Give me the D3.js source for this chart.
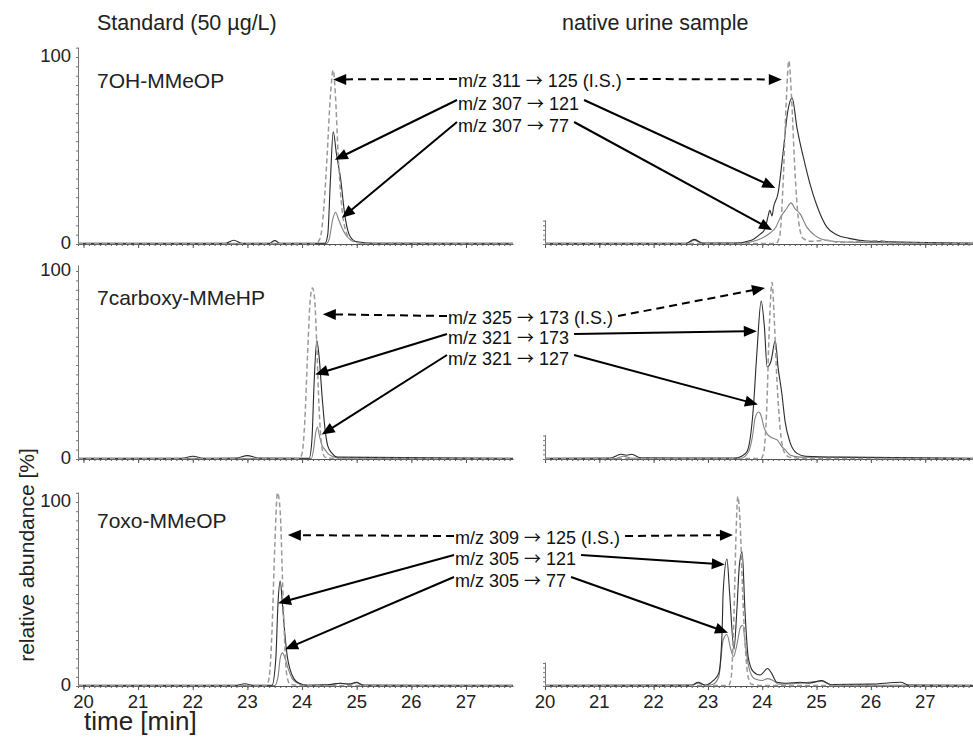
<!DOCTYPE html>
<html>
<head>
<meta charset="utf-8">
<script src="https://cdn.jsdelivr.net/npm/d3@7"></script>
<style>
  body { margin: 0; background: #fff; }
  svg { display: block; font-family: "Liberation Sans", Arial, sans-serif; }
</style>
</head>
<body>
<div id="chart"></div>
<script>
// ---- data: [time (min), relative abundance (%)] ----
const compounds = ["7OH-MMeOP", "7carboxy-MMeHP", "7oxo-MMeOP"];
const columnTitles = ["Standard (50 µg/L)", "native urine sample"];
const transitions = [
  ["m/z 311 → 125 (I.S.)", "m/z 307 → 121", "m/z 307 → 77"],
  ["m/z 325 → 173 (I.S.)", "m/z 321 → 173", "m/z 321 → 127"],
  ["m/z 309 → 125 (I.S.)", "m/z 305 → 121", "m/z 305 → 77"]
];
const xTickValues = [20, 21, 22, 23, 24, 25, 26, 27];
const yTickValues = [0, 100];

// 7OH-MMeOP, standard
const ohStdIS = [[19.9,0.3],[24.25,0.3],[24.33,3],[24.4,20],[24.46,48],[24.52,80],[24.57,93],[24.61,80],[24.66,48],[24.72,22],[24.8,7],[24.9,2],[25.1,0.4],[27.86,0.3]];
const ohStd121 = [[19.9,0.4],[22.6,0.4],[22.75,2],[22.9,0.4],[23.4,0.4],[23.5,1.8],[23.6,0.4],[24.42,0.4],[24.47,5],[24.52,35],[24.57,60],[24.63,48],[24.7,36],[24.79,14],[24.88,4],[25.0,1.2],[25.3,0.4],[27.86,0.4]];
const ohStd77 = [[19.9,0.3],[24.45,0.3],[24.5,3],[24.56,13],[24.61,17],[24.67,13],[24.74,8],[24.82,4],[24.95,1.5],[25.2,0.4],[27.86,0.3]];
// 7OH-MMeOP, urine
const ohUrIS = [[20,0.3],[24.25,0.3],[24.32,4],[24.38,30],[24.44,75],[24.49,98],[24.54,78],[24.6,40],[24.67,12],[24.75,3],[24.9,1.5],[25.2,2],[25.4,0.8],[26.2,1.8],[26.4,0.4],[27.88,0.3]];
const ohUr121 = [[20,0.4],[22.6,0.4],[22.75,2.5],[22.9,0.5],[23.5,0.5],[23.8,2],[23.95,5],[24.05,8],[24.1,14],[24.14,18],[24.18,15],[24.21,20],[24.29,27],[24.38,48],[24.47,71],[24.55,78],[24.64,62],[24.76,46],[24.88,32],[25.0,21],[25.19,9],[25.37,5],[25.6,3],[26.0,1.5],[27.88,0.5]];
const ohUr77 = [[20,0.3],[22.6,0.3],[22.75,2],[22.9,0.3],[23.6,0.4],[23.9,2],[24.05,4],[24.15,6],[24.25,9],[24.33,14],[24.45,19],[24.53,22],[24.6,19],[24.7,16],[24.82,9],[24.95,5],[25.06,3],[25.3,1.5],[25.6,1],[27.88,0.3]];
// 7carboxy-MMeHP, standard
const cbStdIS = [[19.9,0.3],[23.95,0.3],[24.0,3],[24.05,20],[24.1,55],[24.15,85],[24.19,91],[24.23,85],[24.27,60],[24.31,28],[24.36,7],[24.42,1],[24.6,0.3],[27.86,0.3]];
const cbStd173 = [[19.9,0.4],[21.8,0.4],[22.0,1.5],[22.2,0.4],[22.8,0.5],[23.0,1.8],[23.2,0.5],[24.13,0.4],[24.18,10],[24.22,40],[24.27,63],[24.31,55],[24.37,32],[24.42,16],[24.47,7],[24.55,3],[24.65,1],[27.86,0.4]];
const cbStd127 = [[19.9,0.3],[24.17,0.3],[24.21,5],[24.25,14],[24.28,17],[24.32,12],[24.37,7],[24.42,5],[24.47,3],[24.55,1.5],[24.7,0.4],[27.86,0.3]];
// 7carboxy-MMeHP, urine
const cbUrIS = [[20,0.3],[23.98,0.3],[24.03,4],[24.08,25],[24.13,70],[24.18,94],[24.22,75],[24.27,42],[24.33,16],[24.4,4],[24.5,1],[24.8,0.3],[27.88,0.3]];
const cbUr173 = [[20,0.4],[21.2,0.5],[21.4,2.5],[21.5,2],[21.6,2.5],[21.75,0.7],[23.5,0.5],[23.62,1.5],[23.72,4],[23.83,25],[23.9,56],[23.98,84],[24.04,70],[24.09,49],[24.16,52],[24.24,63],[24.29,49],[24.36,35],[24.42,20],[24.51,9],[24.64,3],[24.8,1.5],[25.5,1],[27.88,0.4]];
const cbUr127 = [[20,0.3],[21.3,0.3],[21.45,1.5],[21.6,0.4],[23.6,0.3],[23.75,4],[23.82,12],[23.87,22],[23.93,25],[23.98,23],[24.03,17],[24.1,13],[24.2,11],[24.28,10],[24.35,7],[24.42,5],[24.52,2],[24.7,1],[27.88,0.3]];
// 7oxo-MMeOP, standard
const oxStdIS = [[19.9,0.3],[23.35,0.3],[23.4,5],[23.45,30],[23.5,75],[23.55,105],[23.6,95],[23.64,60],[23.68,25],[23.72,6],[23.78,1],[24.0,0.3],[27.86,0.3]];
const oxStd121 = [[19.9,0.4],[22.8,0.4],[22.95,1.2],[23.1,0.4],[23.45,0.4],[23.52,15],[23.56,45],[23.6,57],[23.64,45],[23.68,30],[23.73,16],[23.78,9],[23.85,4],[23.95,1.5],[24.1,0.4],[24.5,0.8],[24.7,1.5],[24.85,1],[25.0,2],[25.1,0.5],[27.86,0.4]];
const oxStd77 = [[19.9,0.3],[23.5,0.3],[23.56,5],[23.6,15],[23.64,18],[23.69,15],[23.75,9],[23.82,4],[23.92,1.5],[24.05,0.4],[24.5,0.5],[24.7,1.5],[24.9,1],[25.0,1.8],[25.15,0.3],[27.86,0.3]];
// 7oxo-MMeOP, urine
const oxUrIS = [[20,0.3],[23.38,0.3],[23.43,5],[23.48,40],[23.52,85],[23.55,103],[23.59,90],[23.64,50],[23.69,20],[23.74,5],[23.8,1],[24.0,0.3],[27.88,0.3]];
const oxUr121 = [[20,0.4],[22.7,0.5],[22.82,2],[22.95,0.5],[23.04,1.5],[23.1,3],[23.2,7],[23.26,29],[23.28,51],[23.35,69],[23.4,50],[23.48,20],[23.53,40],[23.58,66],[23.63,73],[23.68,42],[23.74,16],[23.83,8],[23.96,6],[24.1,9.5],[24.17,7],[24.27,2],[24.45,1.5],[24.7,2],[24.85,1.5],[25.1,3],[25.25,0.8],[26.0,1],[26.55,2],[26.7,0.5],[27.88,0.4]];
const oxUr77 = [[20,0.3],[22.7,0.3],[22.82,1.5],[22.95,0.3],[23.1,1],[23.2,5],[23.28,25],[23.35,28],[23.42,20],[23.47,16],[23.53,22],[23.6,32],[23.64,33],[23.69,22],[23.74,12],[23.82,5],[23.9,3.5],[24.0,3],[24.1,4],[24.2,3],[24.3,1],[24.7,1.5],[25.1,2.5],[25.3,0.4],[27.88,0.3]];

const stdTraces = [[ohStdIS, ohStd121, ohStd77], [cbStdIS, cbStd173, cbStd127], [oxStdIS, oxStd121, oxStd77]];
const urTraces = [[ohUrIS, ohUr121, ohUr77], [cbUrIS, cbUr173, cbUr127], [oxUrIS, oxUr121, oxUr77]];

// arrow tips [time, abundance] for I.S., quantifier, qualifier
const stdTips = [
  [[24.57, 88], [24.60, 45], [24.73, 14]],
  [[24.38, 77], [24.24, 45], [24.36, 13]],
  [[23.74, 82], [23.56, 45], [23.69, 20]]
];
const urTips = [
  [[24.36, 88], [24.24, 30], [24.18, 7.5]],
  [[24.05, 91], [23.90, 68], [23.92, 29]],
  [[23.46, 82], [23.31, 66], [23.37, 29]]
];

// ---- layout ----
const width = 973, height = 738;
const rows = [
  { y0: 244, y100: 57, top: 47, textX: 458, lines: [80, 103, 125], label: 88 },
  { y0: 459, y100: 271, top: 265, textX: 448, lines: [317, 337, 358], label: 305 },
  { y0: 686, y100: 502, top: 492, textX: 455, lines: [537, 558, 580], label: 528 }
];

const xStd = d3.scaleLinear().domain([19.9, 27.86]).range([78, 513]);
const xUr = d3.scaleLinear().domain([20, 27.88]).range([545, 973]);

const svg = d3.select("#chart")
  .append("svg")
  .attr("width", width)
  .attr("height", height);

// column titles
svg.append("text").attr("x", 97).attr("y", 30).attr("font-size", "21.5px").attr("fill", "#222").text(columnTitles[0]);
svg.append("text").attr("x", 562).attr("y", 30).attr("font-size", "21.5px").attr("fill", "#222").text(columnTitles[1]);

// y title
svg.append("text")
  .attr("transform", "translate(34,555) rotate(-90)")
  .attr("text-anchor", "middle")
  .attr("font-size", "21px")
  .attr("fill", "#222")
  .text("relative abundance [%]");

// x title
svg.append("text").attr("x", 84).attr("y", 730).attr("font-size", "26px").attr("fill", "#222").text("time [min]");

const styles = [
  { stroke: "#9a9a9a", width: 1.5, dash: "5,3" },
  { stroke: "#2a2a2a", width: 1.1, dash: null },
  { stroke: "#808080", width: 1.1, dash: null }
];

function drawArrow(g, x1, y1, x2, y2, dashed) {
  const dx = x2 - x1, dy = y2 - y1;
  const len = Math.sqrt(dx * dx + dy * dy);
  const ux = dx / len, uy = dy / len;
  const hl = 13, hw = 5.5;
  g.append("line")
    .attr("x1", x1).attr("y1", y1)
    .attr("x2", x2 - ux * (hl - 2)).attr("y2", y2 - uy * (hl - 2))
    .attr("stroke", "#000")
    .attr("stroke-width", 2)
    .attr("stroke-dasharray", dashed ? "8,5" : null);
  const bx = x2 - ux * hl, by = y2 - uy * hl;
  g.append("path")
    .attr("d", `M${x2},${y2}L${bx - uy * hw},${by + ux * hw}L${bx + uy * hw},${by - ux * hw}Z`)
    .attr("fill", "#000");
}

rows.forEach((r, i) => {
  const y = d3.scaleLinear().domain([0, 100]).range([r.y0, r.y100]);
  const g = svg.append("g");

  [{ x: xStd, traces: stdTraces[i], full: true }, { x: xUr, traces: urTraces[i], full: false }].forEach(p => {
    const [xa, xb] = p.x.domain();
    // x axis: minor ticks every 0.1 min, integer ticks slightly longer
    const minor = d3.range(Math.ceil(xa * 10), Math.floor(xb * 10) + 1).map(v => v / 10);
    g.append("g")
      .attr("transform", `translate(0,${r.y0})`)
      .call(d3.axisBottom(p.x).tickValues(minor).tickSize(2).tickSizeOuter(0).tickFormat(""))
      .call(a => a.selectAll("line,path").attr("stroke", "#555"));
    g.append("g")
      .attr("transform", `translate(0,${r.y0})`)
      .call(d3.axisBottom(p.x).tickValues(xTickValues).tickSize(4).tickSizeOuter(0).tickFormat(""))
      .call(a => a.select(".domain").remove())
      .call(a => a.selectAll("line").attr("stroke", "#555"));

    // y axis (full on standard, short stub on urine)
    const yTop = p.full ? y.invert(r.top) : 13;
    const yAx = y.copy().domain([0, yTop]).range([r.y0, y(yTop)]);
    g.append("g")
      .attr("transform", `translate(${p.x.range()[0]},0)`)
      .call(d3.axisLeft(yAx).tickValues(d3.range(0, yTop, p.full ? 5 : 2.5)).tickSize(2).tickSizeOuter(0).tickFormat(""))
      .call(a => a.selectAll("line,path").attr("stroke", "#777"));

    if (i === 2) {
      g.selectAll(null)
        .data(xTickValues.filter(v => v >= xa && v <= xb))
        .enter().append("text")
        .attr("x", d => p.x(d))
        .attr("y", 708)
        .attr("text-anchor", "middle")
        .attr("font-size", "18.5px")
        .attr("fill", "#222")
        .text(d => d);
    }

    // traces: qualifier, quantifier, then I.S. dashed
    [2, 1, 0].forEach(k => {
      const line = d3.line().x(d => p.x(d[0])).y(d => y(d[1])).curve(d3.curveMonotoneX);
      g.append("path")
        .datum(p.traces[k])
        .attr("d", line)
        .attr("fill", "none")
        .attr("stroke", styles[k].stroke)
        .attr("stroke-width", styles[k].width)
        .attr("stroke-dasharray", styles[k].dash);
    });
  });

  // y tick labels
  g.selectAll(null)
    .data(yTickValues)
    .enter().append("text")
    .attr("x", 71)
    .attr("y", d => y(d) + 5)
    .attr("text-anchor", "end")
    .attr("font-size", "18.5px")
    .attr("fill", "#222")
    .text(d => d);

  // compound label
  g.append("text").attr("x", 97).attr("y", r.label).attr("font-size", "21px").attr("fill", "#222").text(compounds[i]);

  // transition labels + arrows
  transitions[i].forEach((t, k) => {
    const ly = r.lines[k];
    const [before, after] = t.split("→");
    const txt = g.append("text")
      .attr("x", r.textX)
      .attr("y", ly + 6.5)
      .attr("font-size", "18px")
      .attr("fill", "#111");
    txt.append("tspan").text(before);
    txt.append("tspan").attr("font-family", "'Noto Sans CJK JP', 'DejaVu Sans', sans-serif").attr("font-size", "17px").text("→");
    txt.append("tspan").text(after);
    const w = txt.node().getComputedTextLength();
    const dashed = k === 0;
    const sy = dashed ? ly - 1 : ly - 3;
    const ts = stdTips[i][k], tu = urTips[i][k];
    drawArrow(g, r.textX - 1, sy, xStd(ts[0]), y(ts[1]), dashed);
    drawArrow(g, r.textX + w + 5, sy, xUr(tu[0]), y(tu[1]), dashed);
  });
});
</script>
</body>
</html>
